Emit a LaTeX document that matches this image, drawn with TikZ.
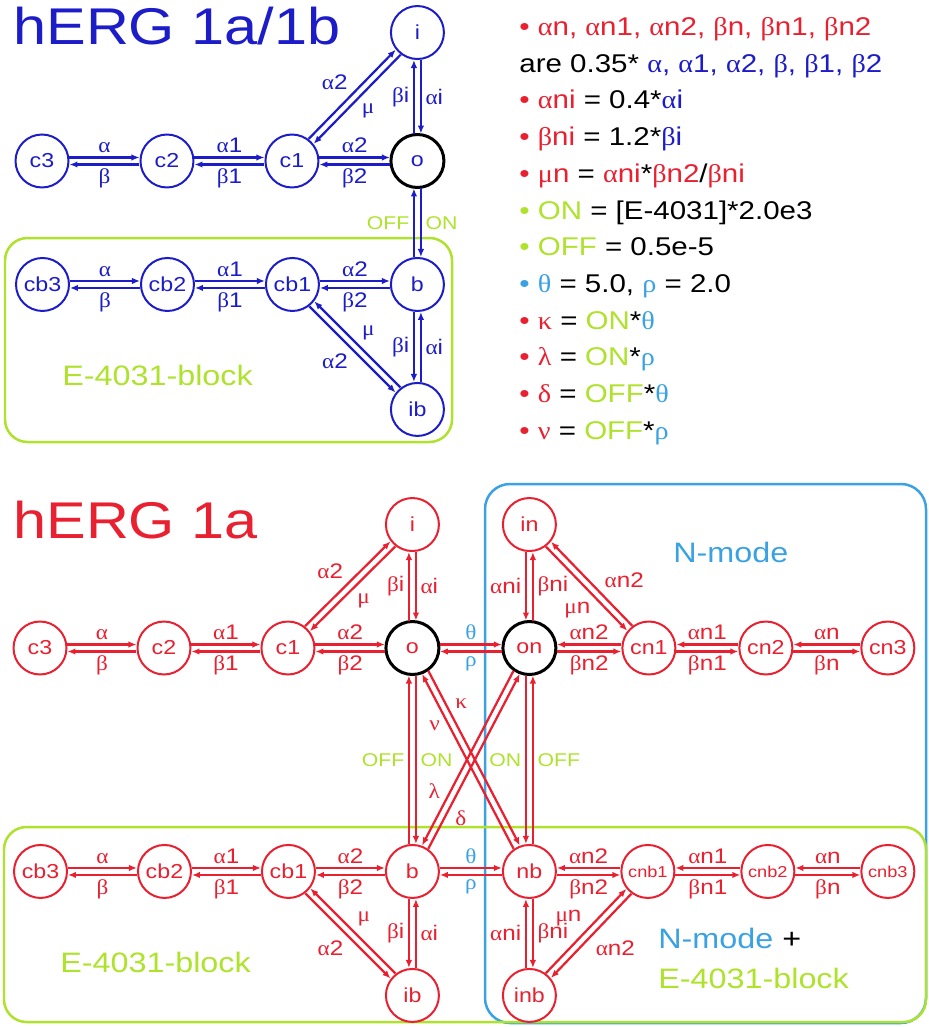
\documentclass[tikz,border=0pt]{standalone}
\usepackage{fontspec}
\setmainfont{Liberation Sans}[FakeStretch=1.15]
\newfontfamily\grk{Liberation Serif}[FakeStretch=1.1]
\usetikzlibrary{arrows.meta, positioning, calc}
\definecolor{hergBlue}{HTML}{1C1CC8}
\definecolor{hergRed}{HTML}{E82030}
\definecolor{hergLime}{HTML}{AEE22C}
\definecolor{hergSky}{HTML}{3AA2E2}
\newcommand{\gal}{{\grk α}}
\newcommand{\gbe}{{\grk β}}
\newcommand{\gmu}{{\grk μ}}
\newcommand{\gth}{{\grk θ}}
\newcommand{\grh}{{\grk ρ}}
\newcommand{\gka}{{\grk κ}}
\newcommand{\gla}{{\grk λ}}
\newcommand{\gde}{{\grk δ}}
\newcommand{\gnu}{{\grk ν}}
\newcommand{\drug}[1]{\textcolor{hergLime}{\fontsize{10.5}{12}\selectfont #1}}
\newcommand{\modelab}[1]{\textcolor{hergSky}{#1}}
\tikzset{
  state/.style={circle, draw, line width=0.04cm, fill=white, minimum size=1.06cm,
    inner sep=0pt, font=\fontsize{11.5}{13}\selectfont},
  openstate/.style={state, draw=black, line width=0.06cm},
  smallstate/.style={state, font=\fontsize{9}{11}\selectfont},
  rate/.style={line width=0.045cm, -{Latex[length=1.6mm, width=1.3mm]},
    shorten <=0.55cm, shorten >=0.55cm},
  ratelab/.style={font=\fontsize{12}{14}\selectfont, inner sep=2pt},
  title/.style={font=\fontsize{29.4}{32}\selectfont, inner sep=0pt, anchor=base west},
  region/.style={font=\fontsize{16}{19}\selectfont, inner sep=0pt, anchor=west},
  blockbox/.style={draw=hergLime, line width=0.05cm, rounded corners=0.45cm},
  nmodebox/.style={draw=hergSky, line width=0.05cm, rounded corners=0.5cm}
}
% pair of opposite rates: [label pos]{side l/r}{from}{to}{forward}{backward}
\newcommand{\rates}[6][0.5]{%
  \pgfmathsetmacro\rpos{1-#1}%
  \ifx l#2\def\rangA{90}\def\rangB{-90}\tikzset{rside/.style={auto=left}}%
  \else\def\rangA{-90}\def\rangB{90}\tikzset{rside/.style={auto=right}}\fi
  \draw[rate] ($(#3)!0.07cm!\rangA:(#4)$) -- node[ratelab, pos=#1, rside] {#5} ($(#4)!0.07cm!\rangB:(#3)$);
  \draw[rate] ($(#4)!0.07cm!\rangA:(#3)$) -- node[ratelab, pos=\rpos, rside] {#6} ($(#3)!0.07cm!\rangB:(#4)$);
}

\begin{document}
\begin{tikzpicture}[x=0.02cm, y=-0.02cm]
  \useasboundingbox (0,0) rectangle (929,1027);

  % boxes
  \draw[blockbox] (5,238) rectangle (452,442);
  \draw[nmodebox] (485,484) rectangle (926,1023);
  \draw[blockbox] (4,827) rectangle (926,1022);

  % hERG 1a/1b
  \node[title, text=hergBlue] (title-top) at (13,45) {hERG 1a/1b};
  \begin{scope}[hergBlue]
    \node[state] (u-c3) at (42,161) {c3};
    \node[state, right=1.4cm of u-c3] (u-c2) {c2};
    \node[state, right=1.4cm of u-c2] (u-c1) {c1};
    \node[openstate, right=1.4cm of u-c1] (u-o) {o};
    \node[state, above=1.46cm of u-o] (u-i) {i};
    \node[state, below=1.36cm of u-o] (u-b) {b};
    \node[state, below=1.4cm of u-b] (u-ib) {ib};
    \node[state, left=1.4cm of u-b] (u-cb1) {cb1};
    \node[state, left=1.4cm of u-cb1] (u-cb2) {cb2};
    \node[state, left=1.4cm of u-cb2] (u-cb3) {cb3};

    \rates{l}{u-c3}{u-c2}{\gal}{\gbe}
    \rates{l}{u-c2}{u-c1}{\gal 1}{\gbe 1}
    \rates{l}{u-c1}{u-o}{\gal 2}{\gbe 2}
    \rates{l}{u-c1}{u-i}{\gal 2}{\gmu}
    \rates{l}{u-i}{u-o}{\gal i}{\gbe i}
    \rates{l}{u-o}{u-b}{\drug{ON}}{\drug{OFF}}
    \rates{l}{u-cb3}{u-cb2}{\gal}{\gbe}
    \rates{l}{u-cb2}{u-cb1}{\gal 1}{\gbe 1}
    \rates{l}{u-cb1}{u-b}{\gal 2}{\gbe 2}
    \rates{r}{u-b}{u-ib}{\gbe i}{\gal i}
    \rates{r}{u-cb1}{u-ib}{\gal 2}{\gmu}
  \end{scope}
  \node[region, text=hergLime] (block-top) at (62,375) {E-4031-block};

  % rate constants
  \node[anchor=north west, align=left, inner sep=0pt,
    font=\fontsize{14.6}{20.9}\selectfont] (legend) at (519,17) {%
    \textcolor{hergRed}{• \gal n, \gal n1, \gal n2, \gbe n, \gbe n1, \gbe n2}\\
    are 0.35* \textcolor{hergBlue}{\gal, \gal 1, \gal 2, \gbe, \gbe 1, \gbe 2}\\
    \textcolor{hergRed}{• \gal ni} = 0.4*\textcolor{hergBlue}{\gal i}\\
    \textcolor{hergRed}{• \gbe ni} = 1.2*\textcolor{hergBlue}{\gbe i}\\
    \textcolor{hergRed}{• \gmu n} = \textcolor{hergRed}{\gal ni}*\textcolor{hergRed}{\gbe n2}/\textcolor{hergRed}{\gbe ni}\\
    \textcolor{hergLime}{• ON} = [E-4031]*2.0e3\\
    \textcolor{hergLime}{• OFF} = 0.5e-5\\
    \textcolor{hergSky}{• \gth} = 5.0, \textcolor{hergSky}{\grh} = 2.0\\
    \textcolor{hergRed}{• \gka} = \textcolor{hergLime}{ON}*\textcolor{hergSky}{\gth}\\
    \textcolor{hergRed}{• \gla} = \textcolor{hergLime}{ON}*\textcolor{hergSky}{\grh}\\
    \textcolor{hergRed}{• \gde} = \textcolor{hergLime}{OFF}*\textcolor{hergSky}{\gth}\\
    \textcolor{hergRed}{• \gnu} = \textcolor{hergLime}{OFF}*\textcolor{hergSky}{\grh}};

  % hERG 1a
  \node[title, text=hergRed] (title-bot) at (13,538) {hERG 1a};
  \begin{scope}[hergRed]
    \node[state] (c3) at (40,648) {c3};
    \node[state, right=1.38cm of c3] (c2) {c2};
    \node[state, right=1.38cm of c2] (c1) {c1};
    \node[openstate, right=1.38cm of c1] (o) {o};
    \node[state, above=1.36cm of o] (i) {i};
    \node[openstate, right=1.22cm of o] (on) {on};
    \node[state, above=1.36cm of on] (in) {in};
    \node[state, right=1.28cm of on] (cn1) {cn1};
    \node[state, right=1.24cm of cn1] (cn2) {cn2};
    \node[state, right=1.34cm of cn2] (cn3) {cn3};
    \node[state, below=3.36cm of o] (b) {b};
    \node[state, below=3.36cm of on] (nb) {nb};
    \node[state, below=1.38cm of b] (ib) {ib};
    \node[state, below=1.38cm of nb] (inb) {inb};
    \node[state, left=1.38cm of b] (cb1) {cb1};
    \node[state, left=1.38cm of cb1] (cb2) {cb2};
    \node[state, left=1.38cm of cb2] (cb3) {cb3};
    \node[smallstate, right=1.27cm of nb] (cnb1) {cnb1};
    \node[smallstate, right=1.3cm of cnb1] (cnb2) {cnb2};
    \node[smallstate, right=1.3cm of cnb2] (cnb3) {cnb3};

    \rates{l}{c3}{c2}{\gal}{\gbe}
    \rates{l}{c2}{c1}{\gal 1}{\gbe 1}
    \rates{l}{c1}{o}{\gal 2}{\gbe 2}
    \rates{l}{c1}{i}{\gal 2}{\gmu}
    \rates{l}{i}{o}{\gal i}{\gbe i}
    \rates{l}{o}{on}{\modelab{\gth}}{\modelab{\grh}}
    \rates{r}{in}{on}{\gal ni}{\gbe ni}
    \rates[0.57]{r}{in}{cn1}{\gmu n}{\gal n2}
    \rates{r}{cn1}{on}{\gal n2}{\gbe n2}
    \rates{r}{cn2}{cn1}{\gal n1}{\gbe n1}
    \rates{r}{cn3}{cn2}{\gal n}{\gbe n}
    \rates{l}{o}{b}{\drug{ON}}{\drug{OFF}}
    \rates{r}{on}{nb}{\drug{ON}}{\drug{OFF}}
    \rates[0.3]{l}{o}{nb}{\gka}{\gnu}
    \rates[0.7]{r}{on}{b}{\gla}{\gde}
    \rates{l}{b}{nb}{\modelab{\gth}}{\modelab{\grh}}
    \rates{l}{cb3}{cb2}{\gal}{\gbe}
    \rates{l}{cb2}{cb1}{\gal 1}{\gbe 1}
    \rates{l}{cb1}{b}{\gal 2}{\gbe 2}
    \rates{r}{b}{ib}{\gbe i}{\gal i}
    \rates{r}{cb1}{ib}{\gal 2}{\gmu}
    \rates{r}{cnb1}{nb}{\gal n2}{\gbe n2}
    \rates{r}{cnb2}{cnb1}{\gal n1}{\gbe n1}
    \rates{r}{cnb3}{cnb2}{\gal n}{\gbe n}
    \rates{l}{nb}{inb}{\gbe ni}{\gal ni}
    \rates{l}{cnb1}{inb}{\gal n2}{\gmu n}
  \end{scope}
  \node[region, text=hergSky] (nmode) at (673,552) {N-mode};
  \node[region, text=hergLime] (block-left) at (60,962) {E-4031-block};
  \node[region] (both) at (658,938) {\textcolor{hergSky}{N-mode} +};
  \node[region, text=hergLime] (block-right) at (658,978) {E-4031-block};
\end{tikzpicture}
\end{document}
